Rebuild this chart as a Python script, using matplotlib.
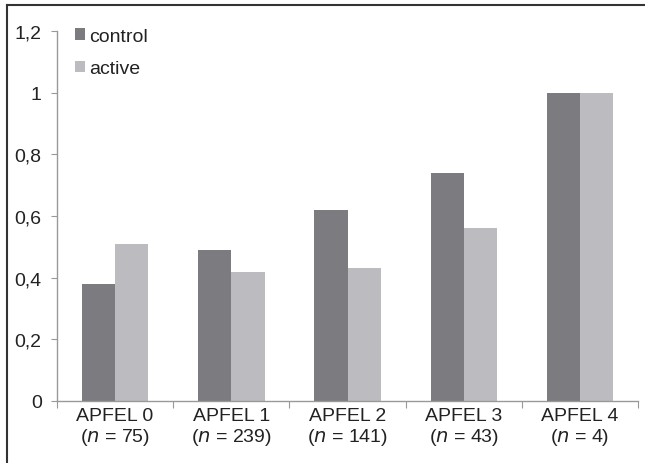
import matplotlib
matplotlib.use("Agg")
import matplotlib.pyplot as plt
import numpy as np

categories = ["APFEL 0", "APFEL 1", "APFEL 2", "APFEL 3", "APFEL 4"]
n_values = ["75", "239", "141", "43", "4"]
control = [0.38, 0.49, 0.62, 0.74, 1.0]
active = [0.51, 0.42, 0.43, 0.56, 1.0]
yticks = [0, 0.2, 0.4, 0.6, 0.8, 1.0, 1.2]
ytick_labels = ["0", "0,2", "0,4", "0,6", "0,8", "1", "1,2"]

plt.rcParams['font.family'] = ['Liberation Sans', 'DejaVu Sans']
FS = 14

fig = plt.figure(figsize=(6.45, 4.64), dpi=100)
ax = fig.add_axes([57/645, 1-402/464, (638-57)/645, (402-32)/464])

x = np.arange(len(categories))
w = 1/3.5
dark = "#7b7b80"
light = "#bcbcc0"
ax.bar(x - w/2, control, width=w, color=dark, label="control")
ax.bar(x + w/2, active, width=w, color=light, label="active")

ax.set_xlim(-0.5, len(categories) - 0.5)
ax.set_ylim(0, 1.2)
ax.set_yticks(yticks)
ax.set_yticklabels(ytick_labels, fontsize=FS, color="#222222")

ax.set_xticks(np.arange(len(categories) + 1) - 0.5)
ax.set_xticklabels([])
ax.set_xticks(x, minor=True)
ax.set_xticklabels([f"{c}\n($n$ = {n})" for c, n in zip(categories, n_values)],
                   minor=True, fontsize=FS, color="#222222", linespacing=1.15)
ax.tick_params(axis="x", which="minor", length=0, pad=4)
ax.tick_params(axis="x", which="major", length=5, color="#999999", direction="out")
ax.tick_params(axis="y", length=4, color="#999999", pad=7)

for s in ["top", "right"]:
    ax.spines[s].set_visible(False)
for s in ["left", "bottom"]:
    ax.spines[s].set_color("#999999")
    ax.spines[s].set_linewidth(1.0)

leg = ax.legend(loc="upper left", bbox_to_anchor=(0.0, 1.056), frameon=False,
                fontsize=FS, handlelength=0.55, handleheight=0.55,
                handletextpad=0.2, labelspacing=0.8)
for t in leg.get_texts():
    t.set_color("#222222")

# outer frame (top and left only)
fig.add_artist(plt.Line2D([7/645, 7/645], [0, 1-6/464], transform=fig.transFigure,
                          color="#333333", linewidth=1.5))
fig.add_artist(plt.Line2D([7/645, 1], [1-6/464, 1-6/464], transform=fig.transFigure,
                          color="#333333", linewidth=1.5))

fig.savefig("out.png", dpi=100)
